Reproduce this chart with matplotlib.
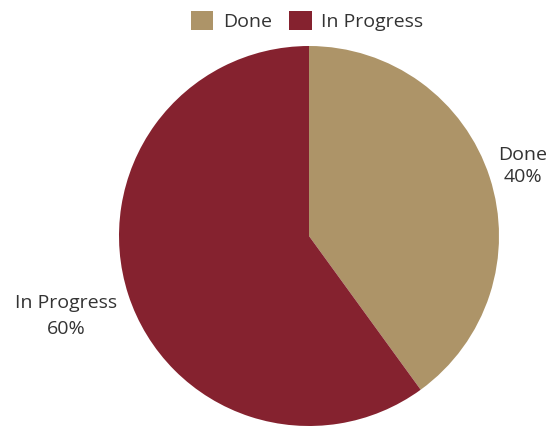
import numpy as np
import matplotlib.pyplot as plt

plt.rcParams['font.family'] = ['Open Sans', 'DejaVu Sans']

# Data
labels = ['Done', 'In Progress']
values = [40, 60]
colors = ['#AD9468', '#85222F']

fig = plt.figure(figsize=(5.54, 4.26), dpi=100)
ax = fig.add_axes([119 / 554, 0 / 426, 380 / 554, 380 / 426])

wedges, _ = ax.pie(values, colors=colors, startangle=90, counterclock=False,
                   radius=1.0)
ax.set_xlim(-1, 1)
ax.set_ylim(-1, 1)
ax.set_aspect('equal')

# Labels outside the wedges
label_pos = [(1.125, 0.37), (-1.28, -0.42)]
spacing = [1.3, 1.55]
for lab, val, (x, y), ls in zip(labels, values, label_pos, spacing):
    ax.text(x, y, f'{lab}\n{val}%', ha='center', va='center',
            fontsize=14, color='#333333', linespacing=ls, clip_on=False)

fig.legend(wedges, labels, loc='upper center', bbox_to_anchor=(307 / 554, 1.0),
           ncol=2, frameon=False, fontsize=14, handlelength=1.15,
           handleheight=1.15, handletextpad=0.5, columnspacing=0.9,
           labelcolor='#333333', borderaxespad=0.15)

fig.savefig('out.png', dpi=100)
